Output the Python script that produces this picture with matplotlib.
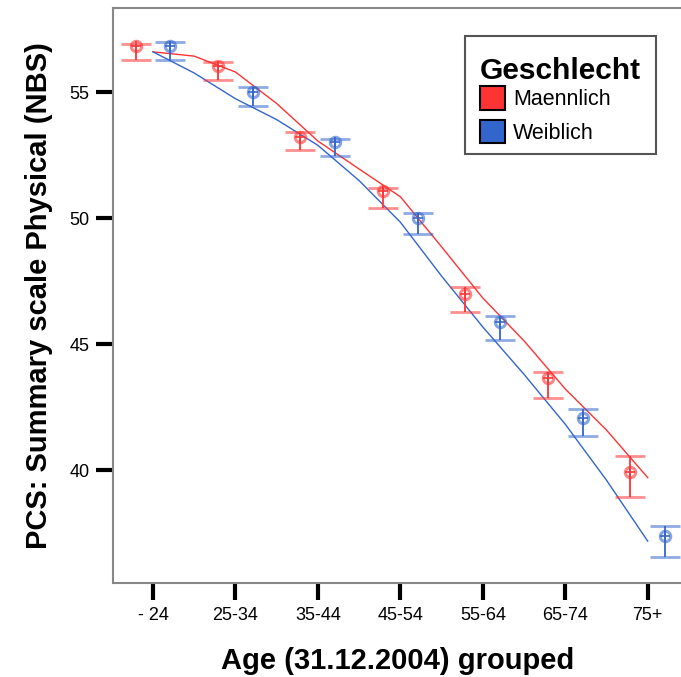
import numpy as np
import matplotlib
matplotlib.use("Agg")
import matplotlib.pyplot as plt
from matplotlib.patches import Patch, Rectangle

plt.rcParams['font.family'] = ['Liberation Sans', 'DejaVu Sans']

age_groups = ["- 24", "25-34", "35-44", "45-54", "55-64", "65-74", "75+"]

# group means and error bar limits
male_mean = [56.85, 56.06, 53.24, 51.08, 47.00, 43.67, 39.94]
male_upper = [56.92, 56.21, 53.44, 51.21, 47.26, 43.91, 40.57]
male_lower = [56.28, 55.49, 52.71, 50.42, 46.29, 42.88, 38.93]

female_mean = [56.85, 55.00, 53.02, 50.00, 45.87, 42.06, 37.40]
female_upper = [57.01, 55.20, 53.15, 50.20, 46.13, 42.42, 37.80]
female_lower = [56.28, 54.47, 52.48, 49.40, 45.17, 41.36, 36.55]

# fit lines, read at half-category steps
fit_pos = [0, 0.5, 1, 1.5, 2, 2.5, 3, 3.5, 4, 4.5, 5, 5.5, 6]
male_fit = [56.61, 56.44, 55.81, 54.56, 53.07, 51.96, 50.86, 48.87, 46.84, 45.14, 43.23, 41.60, 39.71]
female_fit = [56.61, 55.77, 54.75, 53.92, 52.90, 51.50, 49.85, 47.71, 45.69, 43.81, 41.83, 39.61, 37.19]

red = '#ff3333'
blue = '#3366cc'

W, H = 681, 677
fig = plt.figure(figsize=(W / 100, H / 100), dpi=100)
ax = fig.add_axes([113 / W, 94 / H, 1.002 - 113 / W, (583 - 7.5) / H])

x = np.arange(len(age_groups))
off = 0.212

ax.plot(fit_pos, male_fit, color=red, lw=1.0, zorder=2)
ax.plot(fit_pos, female_fit, color=blue, lw=1.0, zorder=2)

for means, lo, hi, col, dx in [(male_mean, male_lower, male_upper, red, -off),
                               (female_mean, female_lower, female_upper, blue, off)]:
    means = np.array(means)
    yerr = [means - np.array(lo), np.array(hi) - means]
    eb = ax.errorbar(x + dx, means, yerr=yerr, fmt='none', ecolor=col, elinewidth=1.3,
                     capsize=11, capthick=2, zorder=3)
    for cap in eb[1]:
        cap.set_alpha(0.55)
    ax.plot(x + dx, means, 'o', ms=7.5, mfc='none', mec=col, mew=2.2, alpha=0.6, zorder=4)
    ax.plot(x + dx, means, '+', ms=7.5, mec=col, mew=1.4, alpha=0.85, zorder=4)

ax.set_xlim(-0.485, 6.42)
ax.set_ylim(35.53, 58.37)
ax.set_xticks(x)
ax.set_xticklabels(age_groups)
ax.set_yticks([40, 45, 50, 55])

for s in ['left', 'bottom', 'top']:
    ax.spines[s].set_color('#888888')
    ax.spines[s].set_linewidth(1.5)
ax.spines['right'].set_visible(False)
ax.tick_params(axis='both', length=12, width=3, color='black', labelsize=13)
ax.tick_params(axis='x', pad=5)
ax.tick_params(axis='y', pad=5)

ax.set_xlabel("Age (31.12.2004) grouped", fontsize=21, fontweight='bold', labelpad=17)
ax.set_ylabel("PCS: Summary scale Physical (NBS)", fontsize=21, fontweight='bold', labelpad=12)

# legend frame drawn on its own, contents without frame
frame = Rectangle((465 / W, 1 - 154 / H), 191 / W, 118 / H, transform=fig.transFigure,
                  facecolor='white', edgecolor='#555555', lw=1.5, zorder=4.9, clip_on=False)
ax.add_patch(frame)

handles = [Patch(facecolor=red, edgecolor='black', lw=1.5, label='Maennlich'),
           Patch(facecolor=blue, edgecolor='black', lw=1.5, label='Weiblich')]
leg = ax.legend(handles=handles, title='Geschlecht', loc='upper left',
                bbox_to_anchor=(480 / W, 1 - 57 / H), bbox_transform=fig.transFigure,
                borderaxespad=0, borderpad=0, frameon=False,
                fontsize=15.5, title_fontproperties={'weight': 'bold', 'size': 21.5},
                handlelength=1.15, handleheight=1.3, handletextpad=0.4,
                labelspacing=0.45)
leg.set_zorder(5)
leg._legend_box.align = 'left'
leg._legend_box.sep = 1

fig.savefig('out.png', dpi=100)
